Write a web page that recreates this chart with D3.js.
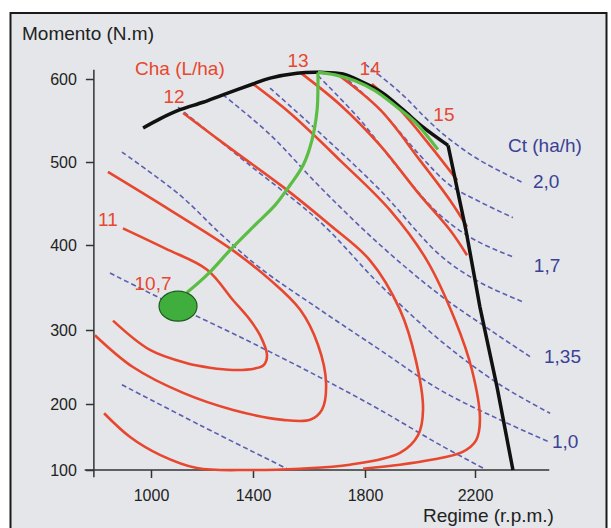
<!DOCTYPE html>
<html>
<head>
<meta charset="utf-8">
<script src="https://cdn.jsdelivr.net/npm/d3@7"></script>
<style>
  body { margin: 0; background: #fff; }
  svg { display: block; font-family: "Liberation Sans", Arial, sans-serif; }
</style>
</head>
<body>
<svg id="chart" width="611" height="528"></svg>
<script>
// Axis ticks (rpm, N.m)
const xTicks = [1000, 1400, 1800, 2200];
const yTicks = [100, 200, 300, 400, 500, 600];

// Full-load torque curve [rpm, N.m]
const torqueTop = [[969, 541], [1035, 552], [1114, 563], [1204, 572], [1282, 581], [1400, 594], [1461, 601],
  [1557, 607], [1639, 608], [1721, 606], [1793, 596], [1865, 583], [1938, 563], [2011, 542], [2102, 520]];
const torqueGov = [[2102, 520], [2167, 418], [2218, 327], [2280, 223], [2338, 100]];

// Fuel per hectare contours, Cha (L/ha)
const cha11 = [[890, 420], [1055, 396], [1220, 371], [1322, 335], [1388, 312], [1425, 293], [1450, 266],
  [1439, 253], [1407, 248], [1322, 246], [1231, 249], [1141, 255], [996, 273], [851, 311]];
const chaB = [[831, 488], [1075, 442], [1310, 396], [1461, 359], [1568, 324], [1632, 280], [1661, 228],
  [1646, 191], [1604, 176], [1507, 176], [1322, 191], [1126, 215], [929, 250], [780, 293]];
const cha12 = [[1126, 559], [1322, 514], [1507, 470], [1675, 424], [1818, 382], [1927, 324], [1985, 259],
  [2011, 191], [1993, 153], [1927, 126], [1746, 108], [1568, 102], [1388, 100], [1180, 103], [1035, 123],
  [918, 150], [816, 186]];
const chaD = [[1400, 594], [1532, 559], [1711, 502], [1891, 442], [2025, 382], [2127, 312], [2189, 246],
  [2218, 176], [2204, 145], [2153, 127], [2036, 115], [1927, 108], [1793, 102]];
const cha13 = [[1568, 608], [1711, 569], [1855, 520], [2000, 460], [2109, 418], [2171, 388]];
const chaF = [[1700, 606], [1855, 563], [2000, 502], [2109, 454], [2171, 422]];
const cha14 = [[1825, 594], [1927, 563], [2036, 520], [2135, 478]];
const chaLabels = [["11", 831, 423], ["12", 1090, 571], ["13", 1561, 614], ["14", 1818, 605],
  ["15", 2087, 549], ["10,7", 1008, 347]];

// Field capacity lines, Ct (ha/h)
const ct0 = [[886, 226], [1192, 168], [1521, 102]];
const ct1 = [[839, 367], [1106, 327], [1388, 284], [1639, 236], [1855, 191], [2073, 138], [2229, 103]];
const ct10 = [[886, 512], [1114, 460], [1271, 414], [1425, 373], [1639, 324], [1855, 273], [2073, 219],
  [2291, 176], [2473, 142]];
const ct3 = [[1106, 566], [1388, 496], [1639, 428], [1855, 353], [2073, 286], [2291, 226], [2473, 186]];
const ct135 = [[1282, 581], [1461, 533], [1639, 470], [1855, 400], [2073, 341], [2255, 300], [2400, 264]];
const ct5 = [[1461, 589], [1639, 535], [1855, 466], [2073, 388], [2218, 356], [2375, 333]];
const ct17 = [[1632, 604], [1782, 551], [1927, 490], [2073, 436], [2200, 406], [2338, 386]];
const ct7 = [[1718, 605], [1855, 563], [2000, 508], [2109, 472], [2218, 452], [2338, 433]];
const ct20 = [[1800, 618], [1927, 584], [2036, 548], [2109, 527], [2218, 502], [2375, 475]];
const ctLabels = [["2,0", 2411, 469], ["1,7", 2414, 368], ["1,35", 2451, 255], ["1,0", 2480, 133]];

// Optimum path and minimum-consumption point
const greenPath = [[1141, 344], [1224, 366], [1310, 394], [1407, 424], [1479, 448], [1532, 472], [1579, 496],
  [1611, 527], [1629, 563], [1632, 593], [1632, 608]];
const greenTop = [[1632, 608], [1693, 605], [1764, 598], [1836, 586], [1909, 568], [1982, 548], [2065, 515]];
const optPoint = [1106, 328];

const svg = d3.select("#chart");

// Frame with grey background
svg.append("rect")
  .attr("x", 10.5).attr("y", 13).attr("width", 596).attr("height", 530)
  .attr("fill", "#e4e6e9").attr("stroke", "#1a1a1a").attr("stroke-width", 2);

// Scales calibrated on the printed ticks (axis in the original is not evenly spaced)
const x = d3.scaleLinear().domain(xTicks).range([151, 253, 365, 475]);
const y = d3.scaleLinear().domain(yTicks).range([470, 404, 330, 245, 162, 79]);

const line = d3.line().x(d => x(d[0])).y(d => y(d[1])).curve(d3.curveCatmullRom.alpha(0.5));
const straight = d3.line().x(d => x(d[0])).y(d => y(d[1]));

// Axes
const axisColor = "#333";
svg.append("line").attr("x1", x(740)).attr("x2", x(2470)).attr("y1", y(100)).attr("y2", y(100))
  .attr("stroke", axisColor).attr("stroke-width", 1.5);
svg.append("line").attr("x1", x(776)).attr("x2", x(776)).attr("y1", y(89)).attr("y2", y(611))
  .attr("stroke", axisColor).attr("stroke-width", 1.5);

const gx = svg.append("g").attr("transform", `translate(0,${y(100)})`)
  .call(d3.axisBottom(x).tickValues(xTicks).tickFormat(d3.format("d")).tickSize(8).tickPadding(12));
const gy = svg.append("g").attr("transform", `translate(${x(776)},0)`)
  .call(d3.axisLeft(y).tickValues(yTicks).tickFormat(d3.format("d")).tickSize(8).tickPadding(9));
[gx, gy].forEach(g => {
  g.select(".domain").remove();
  g.selectAll("line").attr("stroke", axisColor).attr("stroke-width", 1.5);
  g.selectAll("text").attr("fill", "#222").style("font-size", "16px").style("font-family", "Liberation Sans, Arial, sans-serif");
});

// Ct dashed lines
const blue = "#5b5fb0";
[ct0, ct1, ct10, ct3, ct135, ct5, ct17, ct7, ct20].forEach(pts => {
  svg.append("path").attr("d", line(pts)).attr("fill", "none")
    .attr("stroke", blue).attr("stroke-width", 1.6).attr("stroke-dasharray", "5,3");
});

// Cha contours
const red = "#e8472f";
[cha11, chaB, cha12, chaD, cha13, chaF, cha14].forEach(pts => {
  svg.append("path").attr("d", line(pts)).attr("fill", "none")
    .attr("stroke", red).attr("stroke-width", 2.6);
});

// Full-load curve
svg.append("path").attr("d", line(torqueTop)).attr("fill", "none")
  .attr("stroke", "#111").attr("stroke-width", 3.5);
svg.append("path").attr("d", straight(torqueGov)).attr("fill", "none")
  .attr("stroke", "#111").attr("stroke-width", 3.5);

// Green optimum path
const green = "#5cbd45";
[greenPath, greenTop].forEach(pts => {
  svg.append("path").attr("d", line(pts)).attr("fill", "none")
    .attr("stroke", green).attr("stroke-width", 3.2);
});
svg.append("ellipse")
  .attr("cx", x(optPoint[0])).attr("cy", y(optPoint[1])).attr("rx", 19).attr("ry", 15)
  .attr("fill", "#3fae3c").attr("stroke", "#1d5a1d").attr("stroke-width", 1.2);

// Labels
svg.selectAll(".cha-label").data(chaLabels).enter().append("text")
  .attr("x", d => x(d[1])).attr("y", d => y(d[2]))
  .attr("text-anchor", "middle").attr("fill", red).style("font-size", "19px")
  .text(d => d[0]);
svg.selectAll(".ct-label").data(ctLabels).enter().append("text")
  .attr("x", d => x(d[1])).attr("y", d => y(d[2]))
  .attr("fill", "#3b4196").style("font-size", "19px")
  .text(d => d[0]);

svg.append("text").attr("x", 135).attr("y", 75).attr("fill", red).style("font-size", "19px").text("Cha (L/ha)");
svg.append("text").attr("x", 508).attr("y", 152).attr("fill", "#3b4196").style("font-size", "19px").text("Ct (ha/h)");
svg.append("text").attr("x", 22).attr("y", 40).attr("fill", "#222").style("font-size", "19px").text("Momento (N.m)");
svg.append("text").attr("x", 423).attr("y", 522).attr("fill", "#222").style("font-size", "19px").text("Regime (r.p.m.)");
</script>
</body>
</html>
